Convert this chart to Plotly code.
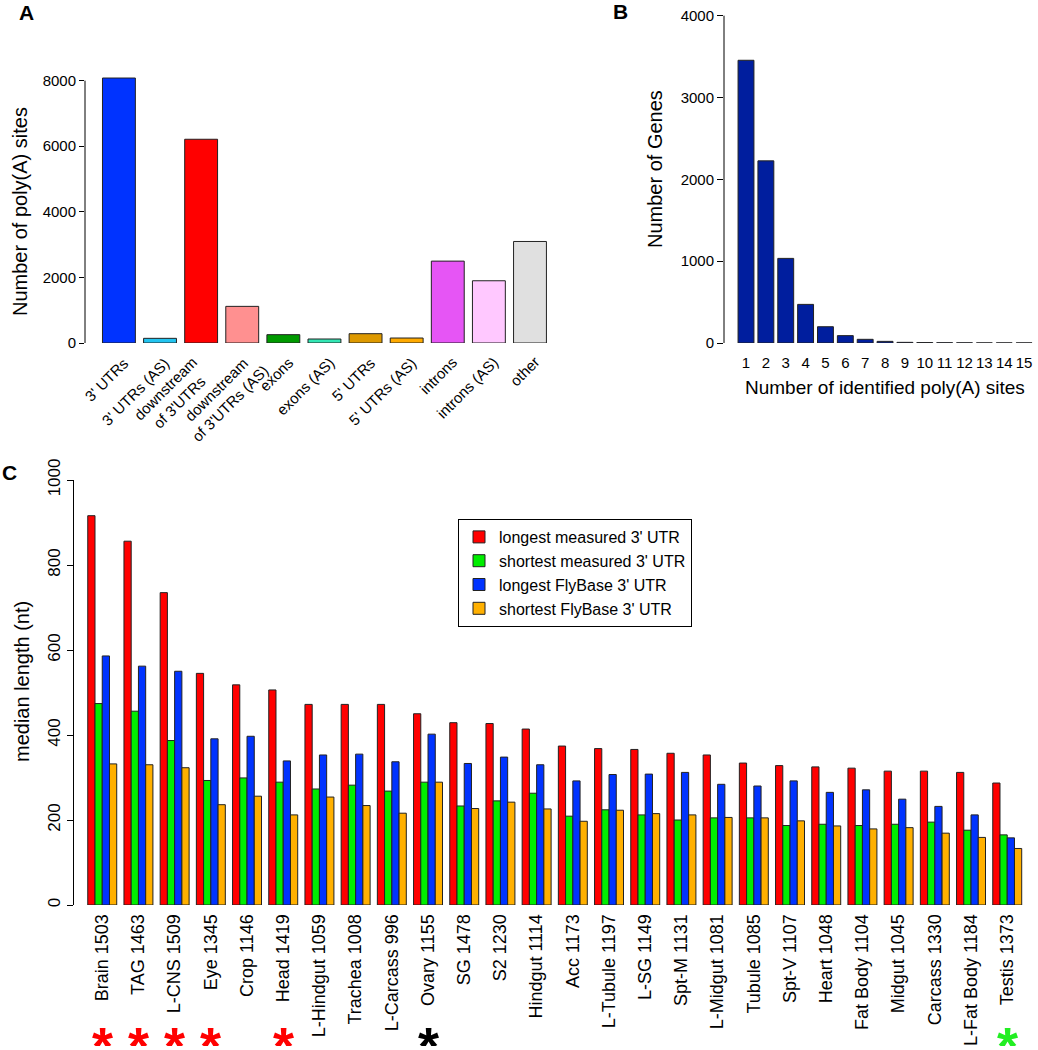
import plotly.graph_objects as go

# ---------------- Panel A data ----------------
a_categories = ["3' UTRs", "3' UTRs (AS)", "downstream<br>of 3'UTRs", "downstream<br>of 3'UTRs (AS)",
                "exons", "exons (AS)", "5' UTRs", "5' UTRs (AS)", "introns", "introns (AS)", "other"]
a_values = [8080, 142, 6213, 1117, 254, 122, 284, 152, 2497, 1898, 3096]
a_colors = ["#0033ff", "#22c4f0", "#ff0000", "#ff9090", "#009a00", "#33e6b4",
            "#dd9900", "#ffaa00", "#e655f5", "#ffc8ff", "#e0e0e0"]

# ---------------- Panel B data ----------------
b_sites = [str(i) for i in range(1, 16)]
b_genes = [3455, 2226, 1034, 472, 199, 90, 45, 20, 8, 5, 3, 2, 1, 1, 1]

# ---------------- Panel C data ----------------
c_tissues = ["Brain 1503", "TAG 1463", "L-CNS 1509", "Eye 1345", "Crop 1146", "Head 1419",
             "L-Hindgut 1059", "Trachea 1008", "L-Carcass 996", "Ovary 1155", "SG 1478", "S2 1230",
             "Hindgut 1114", "Acc 1173", "L-Tubule 1197", "L-SG 1149", "Spt-M 1131", "L-Midgut 1081",
             "Tubule 1085", "Spt-V 1107", "Heart 1048", "Fat Body 1104", "Midgut 1045", "Carcass 1330",
             "L-Fat Body 1184", "Testis 1373"]
c_longest_measured = [916, 856, 735, 545, 518, 506, 472, 472, 472, 450, 429, 427,
                      414, 374, 368, 366, 357, 353, 334, 328, 325, 322, 315, 315, 312, 287]
c_shortest_measured = [474, 456, 387, 293, 299, 289, 273, 282, 268, 289, 233, 245,
                       263, 209, 224, 212, 200, 205, 205, 187, 190, 187, 190, 195, 176, 165]
c_longest_flybase = [586, 562, 550, 391, 397, 339, 353, 355, 337, 402, 333, 348,
                     330, 292, 307, 308, 312, 284, 280, 292, 265, 271, 249, 232, 212, 158]
c_shortest_flybase = [332, 330, 323, 236, 256, 212, 254, 234, 216, 289, 227, 242,
                      226, 197, 223, 215, 212, 206, 205, 198, 186, 179, 182, 169, 159, 133]
c_series_names = ["longest measured 3' UTR", "shortest measured 3' UTR",
                  "longest FlyBase 3' UTR", "shortest FlyBase 3' UTR"]
c_series_colors = ["#ff0000", "#00ee00", "#0033ff", "#ffb000"]

star_tissues = ["Brain 1503", "TAG 1463", "L-CNS 1509", "Eye 1345", "Head 1419", "Ovary 1155", "Testis 1373"]
star_colors = ["#ff0000", "#ff0000", "#ff0000", "#ff0000", "#ff0000", "#000000", "#22ee22"]

FONT = "Liberation Sans, Arial, sans-serif"
W, H = 1038, 1050
EDGE = dict(color="#222222", width=1)

fig = go.Figure()

fig.add_trace(go.Bar(x=a_categories, y=a_values, marker=dict(color=a_colors, line=EDGE),
                     showlegend=False, xaxis="x", yaxis="y"))
fig.add_trace(go.Bar(x=b_sites, y=b_genes, marker=dict(color="#001e9e", line=EDGE),
                     showlegend=False, xaxis="x2", yaxis="y2"))
for name, vals, col in zip(c_series_names,
                           [c_longest_measured, c_shortest_measured, c_longest_flybase, c_shortest_flybase],
                           c_series_colors):
    fig.add_trace(go.Bar(x=c_tissues, y=vals, name=name, marker=dict(color=col, line=EDGE),
                         xaxis="x3", yaxis="y3"))


def px_x(p):
    return p / W


def px_y(p):
    return (H - p) / H


base = dict(showgrid=False, zeroline=False, color="black", automargin=False)
tf15 = dict(family=FONT, size=15, color="black")

fig.update_layout(
    template="none",
    width=W, height=H,
    margin=dict(l=0, r=0, t=0, b=0, pad=0),
    paper_bgcolor="white", plot_bgcolor="white",
    font=dict(family=FONT, color="black"),
    barmode="group", bargap=0.2, bargroupgap=0,
    xaxis=dict(domain=[px_x(85), px_x(560)], range=[-0.825, 10.73], type="category",
               showticklabels=False, ticks="", showline=False, anchor="y", **base),
    yaxis=dict(domain=[px_y(343), px_y(67.4)], range=[0, 8404], tickvals=[0, 2000, 4000, 6000, 8000],
               ticks="outside", ticklen=5, tickcolor="black", tickwidth=1, showline=False, anchor="x",
               tickfont=tf15, **base),
    xaxis2=dict(domain=[px_x(724), px_x(1036)], range=[-1.108, 14.60], type="category",
                ticks="outside", ticklen=6, tickcolor="rgba(0,0,0,0)", showline=False, anchor="y2",
                tickfont=tf15, **base),
    yaxis2=dict(domain=[px_y(343), 1.0], range=[0, 343 / 0.08183],
                tickvals=[0, 1000, 2000, 3000, 4000],
                ticks="outside", ticklen=6, tickcolor="black", tickwidth=1, showline=False, anchor="x2",
                tickfont=tf15, **base),
    xaxis3=dict(domain=[px_x(74), 1.0], range=[-0.78, 25.85], type="category",
                tickangle=-90, ticks="outside", ticklen=1, tickcolor="rgba(0,0,0,0)",
                showline=False, anchor="y3",
                tickfont=dict(family=FONT, size=18, color="black"), **base),
    yaxis3=dict(domain=[px_y(905), px_y(480)], range=[0, 1000], tickvals=[0, 200, 400, 600, 800, 1000],
                ticks="outside", ticklen=6, tickcolor="black", tickwidth=1, showline=True,
                linecolor="black", linewidth=1, tickangle=-90, anchor="x3",
                tickfont=dict(family=FONT, size=17, color="black"), **base),
    legend=dict(x=px_x(458), y=px_y(519), xanchor="left", yanchor="top",
                bordercolor="black", borderwidth=1, bgcolor="white",
                font=dict(family=FONT, size=16, color="black"), tracegroupgap=0),
)

shapes = [
    dict(type="line", xref="x domain", yref="y", x0=0, x1=0, y0=0, y1=8000,
         line=dict(color="black", width=1)),
    dict(type="line", xref="x2 domain", yref="y2", x0=0, x1=0, y0=0, y1=4000,
         line=dict(color="black", width=1)),
]
fig.update_layout(shapes=shapes)

ann = []
# panel A category labels, rotated 45 degrees
for i, cat in enumerate(a_categories):
    if "<br>" in cat:
        shift = (15, 0) if i == 2 else (31, 6)
    else:
        shift = (14, 0)
    ann.append(dict(text=cat, x=cat, y=px_y(352.5), xref="x", yref="paper", xanchor="right",
                    yanchor="top", textangle=-45, align="center", showarrow=False,
                    xshift=shift[0], yshift=shift[1], borderpad=0, font=tf15))


def label(text, x, y, size, angle=0, bold=False, color="black"):
    return dict(text=("<b>%s</b>" % text) if bold else text, x=px_x(x), y=px_y(y),
                xref="paper", yref="paper", xanchor="center", yanchor="middle",
                textangle=angle, showarrow=False, borderpad=0,
                font=dict(family=FONT, size=size, color=color))


# axis titles
ann.append(label("Number of poly(A) sites", 20, 212, 20, angle=-90))
ann.append(label("Number of Genes", 655, 169, 20, angle=-90))
ann.append(label("Number of identified poly(A) sites", 885, 387, 19))
ann.append(label("median length (nt)", 22, 682, 20, angle=-90))
# panel letters
ann.append(label("A", 26.5, 12, 21, bold=True))
ann.append(label("B", 620, 11, 21, bold=True))
ann.append(label("C", 9.5, 472, 21, bold=True))
# asterisks
for t, c in zip(star_tissues, star_colors):
    ann.append(dict(text="<b>*</b>", x=t, y=px_y(1015), xref="x3", yref="paper", yanchor="top",
                    xanchor="center", valign="top", height=30, showarrow=False, borderpad=0,
                    font=dict(family=FONT, size=54, color=c)))
fig.update_layout(annotations=ann)

fig.write_html("out.html", config={"displayModeBar": False},
               post_script="document.body.style.margin='0px';document.body.style.overflow='hidden';")
